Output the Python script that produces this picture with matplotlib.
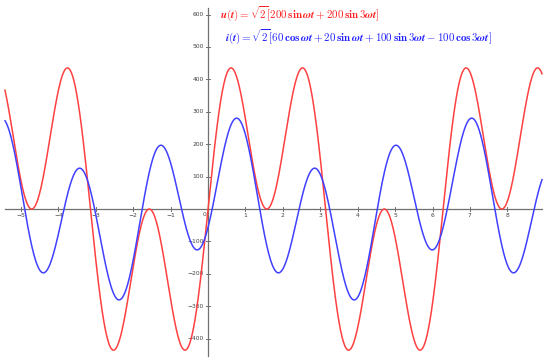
import numpy as np
import matplotlib.pyplot as plt

harmonics = [1, 3]
u_sin = [200, 200]
u_cos = [0, 0]
i_sin = [20, 100]
i_cos = [60, -100]

x_ticks = [-5, -4, -3, -2, -1, 1, 2, 3, 4, 5, 6, 7, 8]
y_ticks = [-400, -300, -200, -100, 100, 200, 300, 400, 500, 600]

x_min, x_max = -5.56, 9.14
y_min, y_max = -472, 645
dx = (x_max - x_min) / 550
dy = (y_max - y_min) / 362

# the curves only cover the drawn part of the x axis
t = np.linspace(x_min + 5 * dx, x_max - 8 * dx, 3000)


def signal(sin_c, cos_c):
    s = np.zeros_like(t)
    for k, a, b in zip(harmonics, sin_c, cos_c):
        s += a * np.sin(k * t) + b * np.cos(k * t)
    return np.sqrt(2) * s


u = signal(u_sin, u_cos)
i = signal(i_sin, i_cos)

plt.rcParams['mathtext.fontset'] = 'cm'

fig = plt.figure(figsize=(5.5, 3.62), dpi=100)
ax = fig.add_axes([0, 0, 1, 1])
ax.set_xlim(x_min, x_max)
ax.set_ylim(y_min, y_max)
ax.axis('off')

axis_color = '#707070'
lbl_color = '#404040'
ax.plot([x_min + 5 * dx, x_max - 8 * dx], [0, 0], color=axis_color, lw=0.9, zorder=1)
ax.plot([0, 0], [y_min + 6 * dy, y_max - 8 * dy], color=axis_color, lw=0.9, zorder=1)

for xt in x_ticks:
    ax.plot([xt, xt], [-2 * dy, 2 * dy], color=axis_color, lw=0.7)
    ax.text(xt, -4 * dy, str(xt).replace('-', '\u2212'), ha='center', va='top',
            fontsize=4.3, color=lbl_color)
for yt in y_ticks:
    ax.plot([-2 * dx, 2 * dx], [yt, yt], color=axis_color, lw=0.7)
    ax.text(-4 * dx, yt, str(yt).replace('-', '\u2212'), ha='right', va='center',
            fontsize=4.3, color=lbl_color)
ax.text(-2 * dx, -3 * dy, '0', ha='right', va='top', fontsize=4.3, color=lbl_color)

ax.plot(t, u, color='#ff4040', lw=1.1, zorder=3)
ax.plot(t, i, color='#4040ff', lw=1.1, zorder=3)

u_label = (r'$\boldsymbol{u(t)}=\sqrt{\mathbf{2}}[\mathbf{200\,sin}\,\boldsymbol{\omega t}'
           r'+\mathbf{200\,sin\,3}\boldsymbol{\omega t}]$')
i_label = (r'$\boldsymbol{i(t)}=\sqrt{\mathbf{2}}[\mathbf{60\,cos}\,\boldsymbol{\omega t}'
           r'+\mathbf{20\,sin}\,\boldsymbol{\omega t}'
           r'+\mathbf{100\,sin\,3}\boldsymbol{\omega t}'
           r'-\mathbf{100\,cos\,3}\boldsymbol{\omega t}]$')
ax.text(220 / 550, 1 - 14 / 362, u_label, transform=ax.transAxes, color='#ff2020',
        fontsize=7.9, ha='left', va='center')
ax.text(225 / 550, 1 - 37 / 362, i_label, transform=ax.transAxes, color='#2020ff',
        fontsize=7.9, ha='left', va='center')

fig.savefig('out.png', dpi=100)
